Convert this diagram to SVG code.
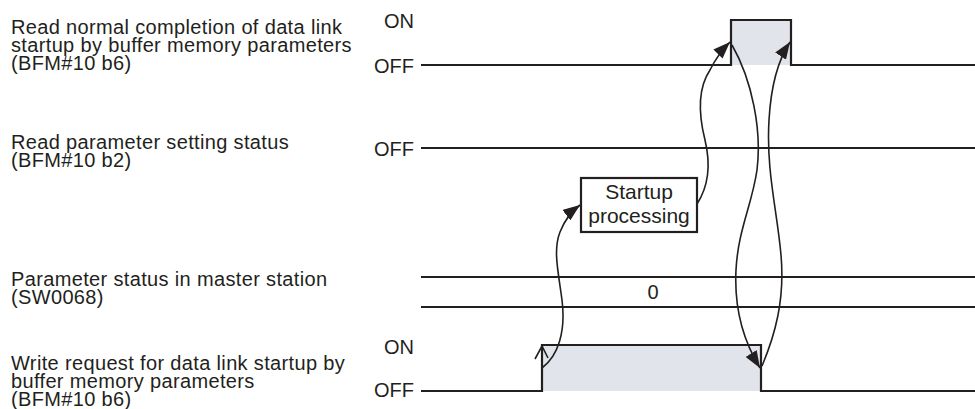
<svg xmlns="http://www.w3.org/2000/svg" width="975" height="409" viewBox="0 0 975 409">
<style>
text{font-family:"Liberation Sans",Arial,sans-serif;font-size:20px;fill:#231f20}
.lab{letter-spacing:0.35px}
.r{text-anchor:end}
.c{text-anchor:middle}
.sig{fill:none;stroke:#231f20;stroke-width:2.2}
.fill{fill:#e1e4ea;stroke:none}
.conn{fill:none;stroke:#231f20;stroke-width:1.6}
.box{fill:#fff;stroke:#231f20;stroke-width:2.2}
</style>
<defs>
<marker id="ah" markerUnits="userSpaceOnUse" markerWidth="18" markerHeight="13" refX="17" refY="6.5" orient="auto">
<path d="M0,0 L17,6.5 L0,13 z" fill="#231f20"/>
</marker>
</defs>
<rect width="975" height="409" fill="#fff"/>

<g id="sig1">
<text class="lab" x="11" y="34">Read normal completion of data link<tspan x="11" dy="18">startup by buffer memory parameters</tspan><tspan x="11" dy="18">(BFM#10 b6)</tspan></text>
<text class="r" x="414" y="28">ON</text>
<text class="r" x="414" y="73">OFF</text>
<rect class="fill" x="731" y="20" width="60" height="45"/>
<polyline class="sig" points="421,65 731,65 731,20 791,20 791,65 975,65"/>
</g>

<g id="sig2">
<text class="lab" x="11" y="149">Read parameter setting status<tspan x="11" dy="18">(BFM#10 b2)</tspan></text>
<text class="r" x="414" y="156">OFF</text>
<line class="sig" x1="421" y1="148" x2="975" y2="148"/>
</g>

<g id="sig3">
<text class="lab" x="11" y="286">Parameter status in master station<tspan x="11" dy="18">(SW0068)</tspan></text>
<line class="sig" x1="421" y1="277" x2="975" y2="277"/>
<line class="sig" x1="421" y1="307" x2="975" y2="307"/>
<text class="c" x="653" y="299">0</text>
</g>

<g id="sig4">
<text class="lab" x="11" y="370">Write request for data link startup by<tspan x="11" dy="18">buffer memory parameters</tspan><tspan x="11" dy="18">(BFM#10 b6)</tspan></text>
<text class="r" x="414" y="354">ON</text>
<text class="r" x="414" y="397">OFF</text>
<rect class="fill" x="542" y="345" width="219" height="46"/>
<polyline class="sig" points="421,391 542,391 542,345 761,345 761,391 975,391"/>
</g>

<g id="startup">
<rect class="box" x="581" y="178" width="116" height="54"/>
<text class="c" x="639" y="199" style="font-size:21px">Startup</text>
<text class="c" x="639" y="223" style="font-size:21px">processing</text>
</g>

<g id="connectors">
<polyline class="conn" points="535,359 542,346 548,358"/>
<path class="conn" marker-end="url(#ah)" d="M542,368 C558,356 566,332 562,300 C558,270 553,250 560,232 C565,219 572,211 580,205"/>
<path class="conn" marker-end="url(#ah)" d="M697,204 C708,187 711,165 705,140 C698,112 698,88 710,70 C716,58 723,49 730,42"/>
<path class="conn" marker-end="url(#ah)" d="M732,45 C752,80 762,130 757,170 C752,205 738,230 736,270 C734,310 744,342 760,368"/>
<path class="conn" marker-end="url(#ah)" d="M762,366 C775,335 785,300 781,255 C777,210 766,170 769,120 C771,85 778,60 790,42"/>
</g>
</svg>
